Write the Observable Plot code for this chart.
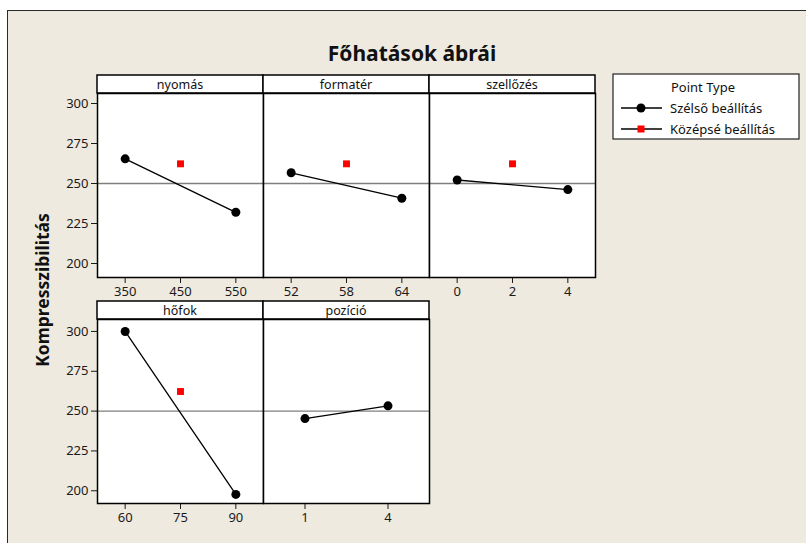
<!DOCTYPE html>
<html>
<head>
<meta charset="utf-8">
<script src="https://cdn.jsdelivr.net/npm/d3@7"></script>
<script src="https://cdn.jsdelivr.net/npm/@observablehq/plot@0.6"></script>
<style>
  html, body { margin: 0; padding: 0; background: #ffffff; }
  #root { position: relative; width: 806px; height: 543px; overflow: hidden; font-family: "Noto Sans", sans-serif; }
  #bg { position: absolute; left: 7px; top: 10px; width: 820px; height: 560px; background: #EEEAE0;
        border-left: 1.5px solid #2a2a2a; border-top: 1.5px solid #2a2a2a; }
  .abs { position: absolute; }
</style>
</head>
<body>
<div id="root"><div id="bg"></div></div>
<script>
// ---- data ----
const title = "Főhatások ábrái";
const yLabel = "Kompresszibilitás";
const factors = ["nyomás", "formatér", "szellőzés", "hőfok", "pozíció"];
const lowLevels = [350, 52, 0, 60, 1];
const highLevels = [550, 64, 4, 90, 4];
const centerLevels = [450, 58, 2, 75, null];
const lowMeans = [265.4, 256.7, 252.2, 300.0, 245.3];
const highMeans = [232.0, 240.8, 246.2, 197.7, 253.3];
const centerMeans = [262.3, 262.3, 262.3, 262.3, null];
const xTicks = [[350, 450, 550], [52, 58, 64], [0, 2, 4], [60, 75, 90], [1, 4]];
const yTicks = [200, 225, 250, 275, 300];
const grandMean = 250;
const legendTitle = "Point Type";
const legendLabels = ["Szélső beállítás", "Középsé beállítás"];

// ---- layout ----
const root = document.getElementById("root");
const FONT = "'Noto Sans', sans-serif";
const panelW = 166, panelH = 184;
const colLeft = [97, 263, 429];
const rowTop = [93, 319];
const stripH = 18;
const yDomains = [[191.25, 306.25], [192, 307.5]];

// overlay svg for title, strips, y label, legend
const svg = d3.select(root).append("svg")
  .attr("class", "abs").style("left", "0px").style("top", "0px")
  .attr("width", 806).attr("height", 543)
  .style("font-family", FONT);

svg.append("text").attr("x", 412).attr("y", 61).attr("text-anchor", "middle")
  .attr("font-size", 21).attr("font-weight", "bold").attr("fill", "#111").text(title);

svg.append("text").attr("transform", "translate(49,290) rotate(-90)").attr("text-anchor", "middle")
  .attr("font-size", 17.5).attr("font-weight", "bold").attr("fill", "#111").text(yLabel);

factors.forEach((f, i) => {
  const row = i < 3 ? 0 : 1, col = i < 3 ? i : i - 3;
  const x0 = colLeft[col], y0 = rowTop[row] - stripH;
  svg.append("rect").attr("x", x0).attr("y", y0).attr("width", panelW).attr("height", stripH)
    .attr("fill", "white").attr("stroke", "black").attr("stroke-width", 1.5);
  svg.append("text").attr("x", x0 + panelW / 2).attr("y", y0 + 13.5).attr("text-anchor", "middle")
    .attr("font-size", 12.5).attr("fill", "#111").text(f);
});

// legend
const lg = svg.append("g").attr("transform", "translate(613,74)");
lg.append("rect").attr("width", 186).attr("height", 65).attr("fill", "white")
  .attr("stroke", "#222").attr("stroke-width", 1.2);
lg.append("text").attr("x", 90).attr("y", 17.5).attr("text-anchor", "middle")
  .attr("font-size", 13).attr("fill", "#111").text(legendTitle);
legendLabels.forEach((lab, k) => {
  const cy = 34 + k * 21;
  lg.append("line").attr("x1", 8).attr("x2", 49).attr("y1", cy).attr("y2", cy)
    .attr("stroke", "black").attr("stroke-width", 1.3);
  if (k === 0) lg.append("circle").attr("cx", 28).attr("cy", cy).attr("r", 4.5).attr("fill", "black");
  else lg.append("rect").attr("x", 24.5).attr("y", cy - 3.5).attr("width", 7).attr("height", 7).attr("fill", "red");
  lg.append("text").attr("x", 57).attr("y", cy + 4.5).attr("font-size", 13).attr("fill", "#111").text(lab);
});

// panels
factors.forEach((f, i) => {
  const row = i < 3 ? 0 : 1, col = i < 3 ? i : i - 3;
  const ml = col === 0 ? 45 : 0;
  const lo = lowLevels[i], hi = highLevels[i], r = hi - lo;
  const pad = centerLevels[i] == null ? r / 2 : r / 4;
  const ext = [{x: lo, y: lowMeans[i]}, {x: hi, y: highMeans[i]}];
  const ctr = centerLevels[i] == null ? [] : [{x: centerLevels[i], y: centerMeans[i]}];
  const p = Plot.plot({
    width: ml + panelW, height: panelH + 30,
    marginLeft: ml, marginRight: 0, marginTop: 0, marginBottom: 30,
    style: {background: "transparent", overflow: "visible", fontFamily: FONT, fontSize: "13px", color: "#1a1a1a"},
    x: {domain: [lo - pad, hi + pad], ticks: xTicks[i], tickSize: 6, tickPadding: 3, tickFormat: d => String(d), label: null},
    y: {domain: yDomains[row], ticks: yTicks, tickSize: 6, tickPadding: 3, label: null, axis: col === 0 ? "left" : null},
    marks: [
      Plot.frame({fill: "white", stroke: null}),
      Plot.ruleY([grandMean], {stroke: "#7f7f7f", strokeWidth: 1.3}),
      Plot.line(ext, {x: "x", y: "y", stroke: "black", strokeWidth: 1.3}),
      Plot.dot(ext, {x: "x", y: "y", r: 4.5, fill: "black"}),
      Plot.dot(ctr, {x: "x", y: "y", r: 3.9, symbol: "square", fill: "red"}),
      Plot.frame({stroke: "black", strokeWidth: 1.5})
    ]
  });
  const holder = document.createElement("div");
  holder.className = "abs";
  holder.style.left = (colLeft[col] - ml) + "px";
  holder.style.top = rowTop[row] + "px";
  holder.appendChild(p);
  root.appendChild(holder);
});
</script>
</body>
</html>
